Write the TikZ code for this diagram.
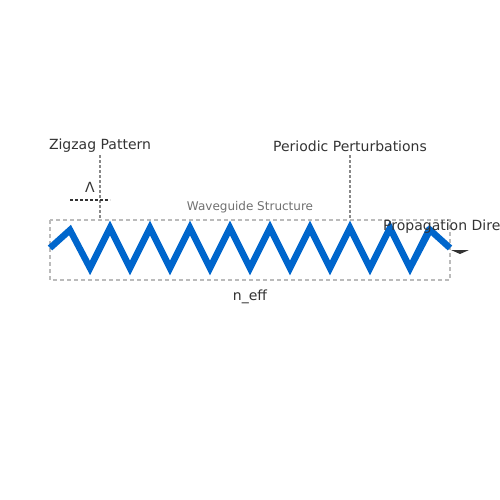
\documentclass[tikz,border=0pt]{standalone}
\usepackage{fontspec}
\setmainfont{DejaVu Sans}
\usepackage{xcolor}
\usetikzlibrary{arrows}
\definecolor{wave}{HTML}{0066CC}
\definecolor{ink}{HTML}{333333}
\definecolor{guide}{HTML}{BBBBBB}
\definecolor{mark}{HTML}{888888}
\begin{document}
\begin{tikzpicture}[line cap=butt,line join=miter,x=1pt,y=-1pt,
  lbl/.style={font=\fontsize{14}{16}\selectfont,text=ink,inner sep=0pt},
  guideline/.style={draw=guide,dash pattern=on 4pt off 3pt,line width=1.2pt},
  markline/.style={draw=mark,dash pattern=on 3pt off 2pt,line width=1.2pt}]
\useasboundingbox (0,0) rectangle (500,500);
\clip (0,0) rectangle (500,500);
% waveguide box
\draw [guideline] (50,220) rectangle (450,280);
\node [font=\fontsize{12}{14}\selectfont,text=ink!70,inner sep=0pt] (wg) at (250,207) {Waveguide Structure};
\node [lbl] (neff) at (250,297) {n\_eff};
% zigzag
\draw [wave,line width=6.5pt] (50,248) -- (70,230)
  \foreach \k in {0,...,8} { -- ({90+40*\k},268) -- ({110+40*\k},228) }
  -- (410,268) -- (430,230) -- (450,248);
% markers
\node [lbl] (zz) at (100,146) {Zigzag Pattern};
\node [lbl] (pp) at (350,146) {Periodic Perturbations};
\node [lbl] (lam) at (90,187) {Λ};
\coordinate (zzend) at (100,220);
\coordinate (ppend) at (350,220);
\draw [markline] (100,155) -- (zzend);
\draw [markline,draw=ink] (70,200) -- (110,200);
\draw [markline] (350,155) -- (ppend);
\node [lbl,anchor=west] (prop) at (383,227) {Propagation Direction};
\fill [ink] (451,250) -- (469,250) -- (460,254) -- cycle;
\end{tikzpicture}
\end{document}
